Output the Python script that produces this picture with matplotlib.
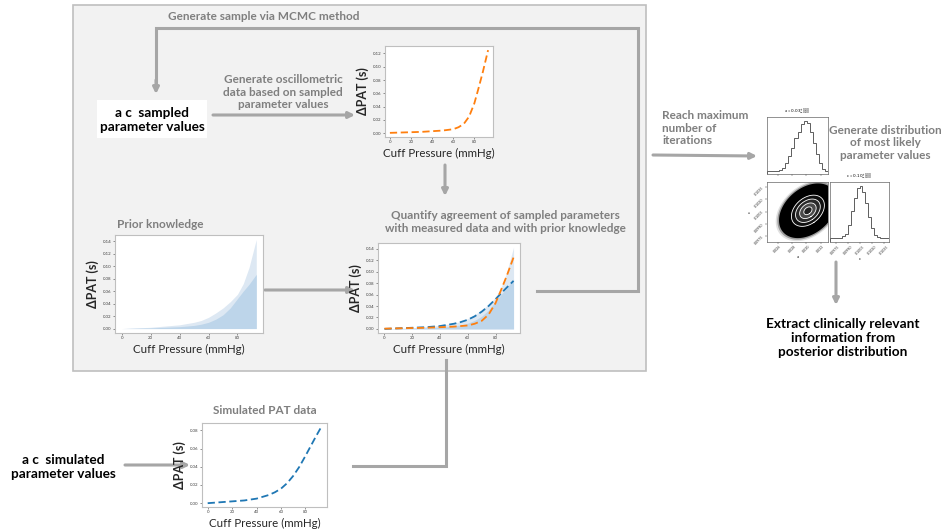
import numpy as np
import matplotlib
matplotlib.use('Agg')
import matplotlib.pyplot as plt
from matplotlib.patches import Rectangle

plt.rcParams['font.family'] = ['Lato', 'DejaVu Sans']

# ---- data ----
pressure = [0, 10, 20, 30, 40, 50, 55, 60, 65, 70, 75, 80, 84, 88, 93]
sampled_pat = [0.0005, 0.001, 0.0015, 0.002, 0.003, 0.004, 0.005, 0.006,
               0.009, 0.014, 0.025, 0.045, 0.068, 0.092, 0.125]
simulated_pat = [0.0, 0.001, 0.002, 0.003, 0.005, 0.009, 0.012, 0.016,
                 0.022, 0.030, 0.040, 0.052, 0.062, 0.072, 0.084]
prior_upper = [0.0, 0.001, 0.002, 0.004, 0.006, 0.010, 0.013, 0.018,
               0.025, 0.033, 0.043, 0.055, 0.072, 0.098, 0.143]
prior_lower = [0.0, 0.0005, 0.001, 0.002, 0.003, 0.005, 0.007, 0.010,
               0.015, 0.022, 0.033, 0.048, 0.060, 0.071, 0.087]

# posterior samples summary (corner plot)
a_range = (0.0245, 0.0330)
c_range = (0.0968, 0.1041)
a_counts = [0.05, 0.05, 0.05, 0.06, 0.08, 0.12, 0.2, 0.35, 0.5, 0.68,
            0.8, 0.95, 1.0, 0.97, 0.8, 0.58, 0.38, 0.2, 0.1, 0.05]
c_counts = [0.07, 0.07, 0.07, 0.08, 0.1, 0.15, 0.3, 0.55, 0.8, 0.97,
            1.0, 0.9, 0.7, 0.45, 0.25, 0.13, 0.09, 0.08, 0.07, 0.07]
a_mean, c_mean = 0.0302, 0.1006
a_sd, c_sd, rho = 0.00115, 0.00095, 0.35
a_ticks = [0.026, 0.028, 0.030, 0.032]
c_ticks = [0.0975, 0.0990, 0.1005, 0.1020, 0.1035]

W, H = 943, 531
GRAY_TXT = '#7f7f7f'
ARROW = '#a6a6a6'
BLUE = '#1f77b4'
ORANGE = '#ff7f0e'

fig = plt.figure(figsize=(W / 100, H / 100), dpi=100)
fig.patch.set_facecolor('white')

bg = fig.add_axes([0, 0, 1, 1])
bg.set_xlim(0, W)
bg.set_ylim(H, 0)
bg.axis('off')

bg.add_patch(Rectangle((73, 5), 573, 366, facecolor='#f2f2f2',
                       edgecolor='#bfbfbf', lw=1.2))
bg.add_patch(Rectangle((97, 100), 110, 38, facecolor='white', edgecolor='none'))


def arrow(x0, y0, x1, y1):
    bg.annotate('', xy=(x1, y1), xytext=(x0, y0),
                arrowprops=dict(arrowstyle='-|>', color=ARROW, lw=2.2,
                                mutation_scale=9, shrinkA=0, shrinkB=0))


def path(xs, ys):
    bg.plot(xs, ys, color=ARROW, lw=2.2, solid_joinstyle='miter')


arrow(213, 115, 355, 115)
arrow(445, 165, 445, 196)
arrow(265, 290, 355, 290)
path([537, 638, 638, 156, 156], [291, 291, 28, 28, 86])
arrow(156, 80, 156, 94)
path([446, 446, 353], [360, 466, 466])
arrow(125, 465, 190, 465)
arrow(653, 155, 757, 156)
arrow(836, 262, 836, 305)

gkw = dict(color=GRAY_TXT, fontweight='bold', fontsize=8.5, linespacing=1.2)
bkw = dict(color='black', fontweight='bold', fontsize=9.8, linespacing=1.2)
bg.text(168, 17, 'Generate sample via MCMC method', ha='left', va='center', **gkw)
bg.text(283, 92, 'Generate oscillometric\ndata based on sampled\nparameter values',
        ha='center', va='center', **gkw)
bg.text(152, 120, 'a c  sampled\nparameter values', ha='center', va='center', **bkw)
bg.text(505, 222, 'Quantify agreement of sampled parameters\n'
        'with measured data and with prior knowledge', ha='center', va='center', **gkw)
bg.text(117, 225, 'Prior knowledge', ha='left', va='center', **gkw)
bg.text(265, 410, 'Simulated PAT data', ha='center', va='center', **gkw)
bg.text(63, 467, 'a c  simulated\nparameter values', ha='center', va='center', **bkw)
bg.text(662, 128, 'Reach maximum\nnumber of\niterations', ha='left', va='center', **gkw)
bg.text(885, 143, 'Generate distribution\nof most likely\nparameter values',
        ha='center', va='center', **gkw)
bg.text(843, 338, 'Extract clinically relevant\ninformation from\nposterior distribution',
        ha='center', va='center', **bkw)


def px_axes(x0, y0, x1, y1):
    return fig.add_axes([x0 / W, 1 - y1 / H, (x1 - x0) / W, (y1 - y0) / H])


def small_plot(box, yticks):
    x0, y0, x1, y1 = box
    ax = px_axes(x0, y0, x1, y1)
    ax.set_facecolor('white')
    for s in ax.spines.values():
        s.set_color('#bfbfbf')
        s.set_linewidth(0.8)
    ax.tick_params(labelsize=3.2, length=1.5, width=0.4, pad=1, colors='#404040')
    ax.set_xticks([0, 20, 40, 60, 80])
    ax.set_yticks(yticks)
    ax.set_yticklabels(['%.2f' % t for t in yticks])
    bg.text((x0 + x1) / 2, y1 + 16, 'Cuff Pressure (mmHg)', ha='center',
            va='center', fontsize=8.3, color='#262626')
    bg.text(x0 - 22, (y0 + y1) / 2, 'ΔPAT (s)', ha='center', va='center',
            rotation=90, fontsize=9, fontweight='bold', color='#262626')
    return ax


dash = dict(lw=1.3, dashes=(4, 2))

ax1 = small_plot((385, 46, 493, 137), np.arange(0, 0.121, 0.02))
ax1.plot(pressure, sampled_pat, color=ORANGE, **dash)

ax2 = small_plot((115, 235, 263, 333), np.arange(0, 0.141, 0.02))
ax2.fill_between(pressure, 0, prior_upper, color='#dde8f3', lw=0)
ax2.fill_between(pressure, 0, prior_lower, color='#bdd5ea', lw=0)

ax3 = small_plot((378, 243, 520, 333), np.arange(0, 0.141, 0.02))
ax3.fill_between(pressure, 0, prior_upper, color='#dde8f3', lw=0)
ax3.fill_between(pressure, 0, prior_lower, color='#bdd5ea', lw=0)
ax3.plot(pressure, simulated_pat, color=BLUE, **dash)
ax3.plot(pressure, sampled_pat, color=ORANGE, **dash)

ax4 = small_plot((202, 423, 327, 507), np.arange(0, 0.081, 0.02))
ax4.plot(pressure, simulated_pat, color=BLUE, **dash)

# ---- corner plot ----
def corner_style(ax):
    ax.set_facecolor('white')
    for s in ax.spines.values():
        s.set_color('#666666')
        s.set_linewidth(0.5)
    ax.tick_params(labelsize=2.6, length=1.2, width=0.3, pad=0.5, colors='#333333')


ha_ = px_axes(767, 117, 828, 174)
corner_style(ha_)
a_edges = np.linspace(a_range[0], a_range[1], len(a_counts) + 1)
ha_.stairs(a_counts, a_edges, color='#444444', lw=0.6)
ha_.set_xlim(a_range)
ha_.set_ylim(0, 1.08)
ha_.set_xticks(a_ticks)
ha_.set_xticklabels([])
ha_.set_yticks([])
ha_.set_title(r'a = $0.03^{+0.00}_{-0.00}$', fontsize=3, pad=1.5)

hc = px_axes(830, 182, 889, 242)
corner_style(hc)
c_edges = np.linspace(c_range[0], c_range[1], len(c_counts) + 1)
hc.stairs(c_counts, c_edges, color='#444444', lw=0.6)
hc.set_xlim(c_range)
hc.set_ylim(0, 1.08)
hc.set_xticks(c_ticks)
hc.set_xticklabels(['%.4f' % t for t in c_ticks], rotation=45)
hc.set_yticks([])
hc.set_xlabel('c', fontsize=3, labelpad=1)
hc.set_title(r'c = $0.10^{+0.00}_{-0.00}$', fontsize=3, pad=1.5)

h2 = px_axes(767, 182, 828, 242)
corner_style(h2)
cov = np.array([[a_sd ** 2, rho * a_sd * c_sd], [rho * a_sd * c_sd, c_sd ** 2]])
vals, vecs = np.linalg.eigh(cov)
t = np.linspace(0, 2 * np.pi, 200)
circle = np.vstack([np.cos(t), np.sin(t)])


def ellipse(k):
    pts = vecs @ (np.sqrt(vals)[:, None] * circle) * k
    return a_mean + pts[0], c_mean + pts[1]


for k, alpha in [(3.9, 0.12), (3.7, 0.3), (3.5, 1.0)]:
    ex, ey = ellipse(k)
    h2.fill(ex, ey, color='black', alpha=alpha, lw=0)
for k, col in [(2.0, '#111111'), (1.5, '#2a2a2a'), (1.0, '#4a4a4a'), (0.5, '#222222')]:
    ex, ey = ellipse(k)
    h2.fill(ex, ey, color=col, lw=0)
    h2.plot(ex, ey, color='white', lw=0.6)
h2.set_xlim(a_range)
h2.set_ylim(c_range)
h2.set_xticks(a_ticks)
h2.set_xticklabels(['%.3f' % v for v in a_ticks], rotation=45)
h2.set_yticks(c_ticks)
h2.set_yticklabels(['%.4f' % v for v in c_ticks], rotation=45)
h2.set_xlabel('a', fontsize=3, labelpad=1)
h2.set_ylabel('c', fontsize=3, labelpad=1)

fig.savefig('out.png', dpi=100, facecolor='white')
